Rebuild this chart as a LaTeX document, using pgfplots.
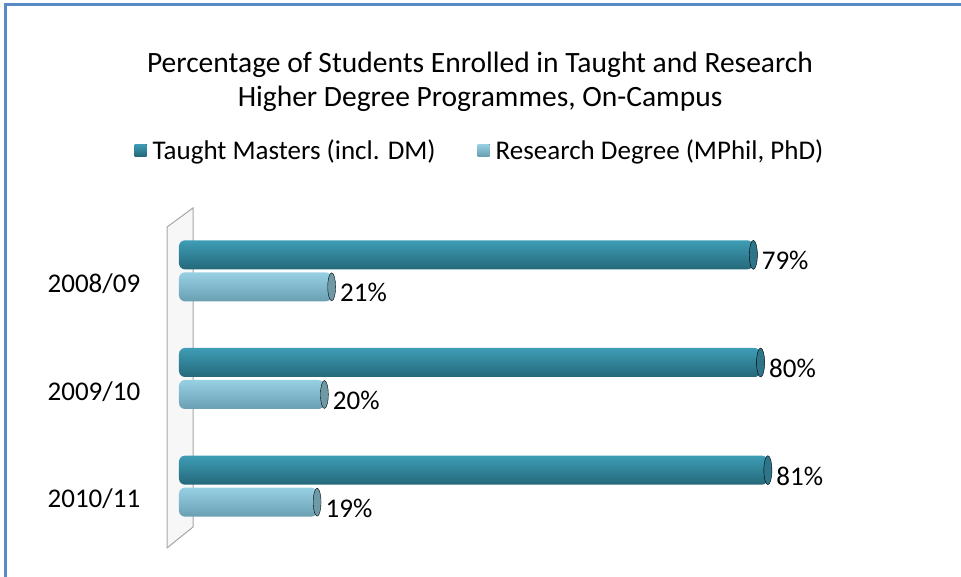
\documentclass[border=0pt]{standalone}
\usepackage{pgfplots}
\pgfplotsset{compat=1.18}
\usepackage{fontspec}
\setmainfont{Carlito}
\definecolor{frameblue}{HTML}{5A8AC6}
\definecolor{ttop}{HTML}{3E9DB5}
\definecolor{tmid}{HTML}{4EB0C9}
\definecolor{tbot}{HTML}{25687A}
\definecolor{tcap}{HTML}{2E7589}
\definecolor{rtop}{HTML}{98D0E3}
\definecolor{rmid}{HTML}{A9DFF0}
\definecolor{rbot}{HTML}{6A9FB2}
\definecolor{rcap}{HTML}{6E9AA8}
\pgfplotsset{
  taught/.style={bar shift=16pt, draw=none, top color=ttop, middle color=tmid, bottom color=tbot, rounded corners=6pt},
  research/.style={bar shift=-16pt, draw=none, top color=rtop, middle color=rmid, bottom color=rbot, rounded corners=6pt},
}
\begin{document}
\begin{tikzpicture}[x=1pt,y=1pt]
\path[use as bounding box] (0,0) rectangle (961,577);
\draw[frameblue, line width=3pt] (5,0) -- (5,572) -- (961,572);
\node[align=center, font=\fontsize{29.5}{34}\selectfont] at (480,495.5) {Percentage of Students Enrolled in Taught and Research\\Higher Degree Programmes, On-Campus};
\begin{axis}[
  at={(179pt,37pt)}, anchor=south west,
  scale only axis, width=727pt, height=323pt,
  xmin=0, xmax=100, ymin=-0.5, ymax=2.5,
  clip=false,
  /pgf/number format/assume math mode=true,
  axis line style={draw=none}, tick style={draw=none},
  xtick=\empty,
  ytick={0,1,2}, yticklabels={2010/11,2009/10,2008/09},
  y tick label style={font=\fontsize{27}{32}\selectfont, xshift=-31pt, yshift=-13pt},
  xbar, bar width=29pt,
  point meta=x,
  nodes near coords={\pgfmathprintnumber{\pgfplotspointmeta}\%},
  every node near coord/.append style={font=\fontsize{27}{32}\selectfont, anchor=west, xshift=5pt, yshift=-6pt, text=black},
  legend style={at={(0.414,1.207)}, anchor=center, draw=none, fill=none,
     font=\fontsize{27}{32}\selectfont, legend columns=2,
     /tikz/every odd column/.append style={column sep=4pt},
     /tikz/every even column/.append style={column sep=40pt}},
  legend image code/.code={\fill[#1, rounded corners=0pt] (0pt,-6pt) rectangle (12pt,6pt);},
]
\draw[gray!70, line width=1pt, fill=gray!6] (axis cs:-1.65,2.407) -- (axis cs:1.93,2.584) -- (axis cs:1.93,-0.379) -- (axis cs:-1.65,-0.574) -- cycle;
\addplot[taught] coordinates {(79,2)};
\addplot[research] coordinates {(21,2)};
\addplot[taught, forget plot] coordinates {(80,1)};
\addplot[research, forget plot] coordinates {(20,1)};
\addplot[taught, forget plot] coordinates {(81,0)};
\addplot[research, forget plot] coordinates {(19,0)};
\addplot[forget plot, only marks, mark=*, mark size=14.5pt, nodes near coords={},
  mark options={xscale=0.28, yshift=16pt, fill=tcap, draw=none}]
  coordinates {(79,2) (80,1) (81,0)};
\addplot[forget plot, only marks, mark=*, mark size=14pt, nodes near coords={},
  mark options={xscale=0.28, yshift=-16pt, fill=rcap, draw=none}]
  coordinates {(21,2) (20,1) (19,0)};
\legend{{Taught Masters (incl. DM)}, {Research Degree (MPhil, PhD)}}
\end{axis}
\end{tikzpicture}
\end{document}
